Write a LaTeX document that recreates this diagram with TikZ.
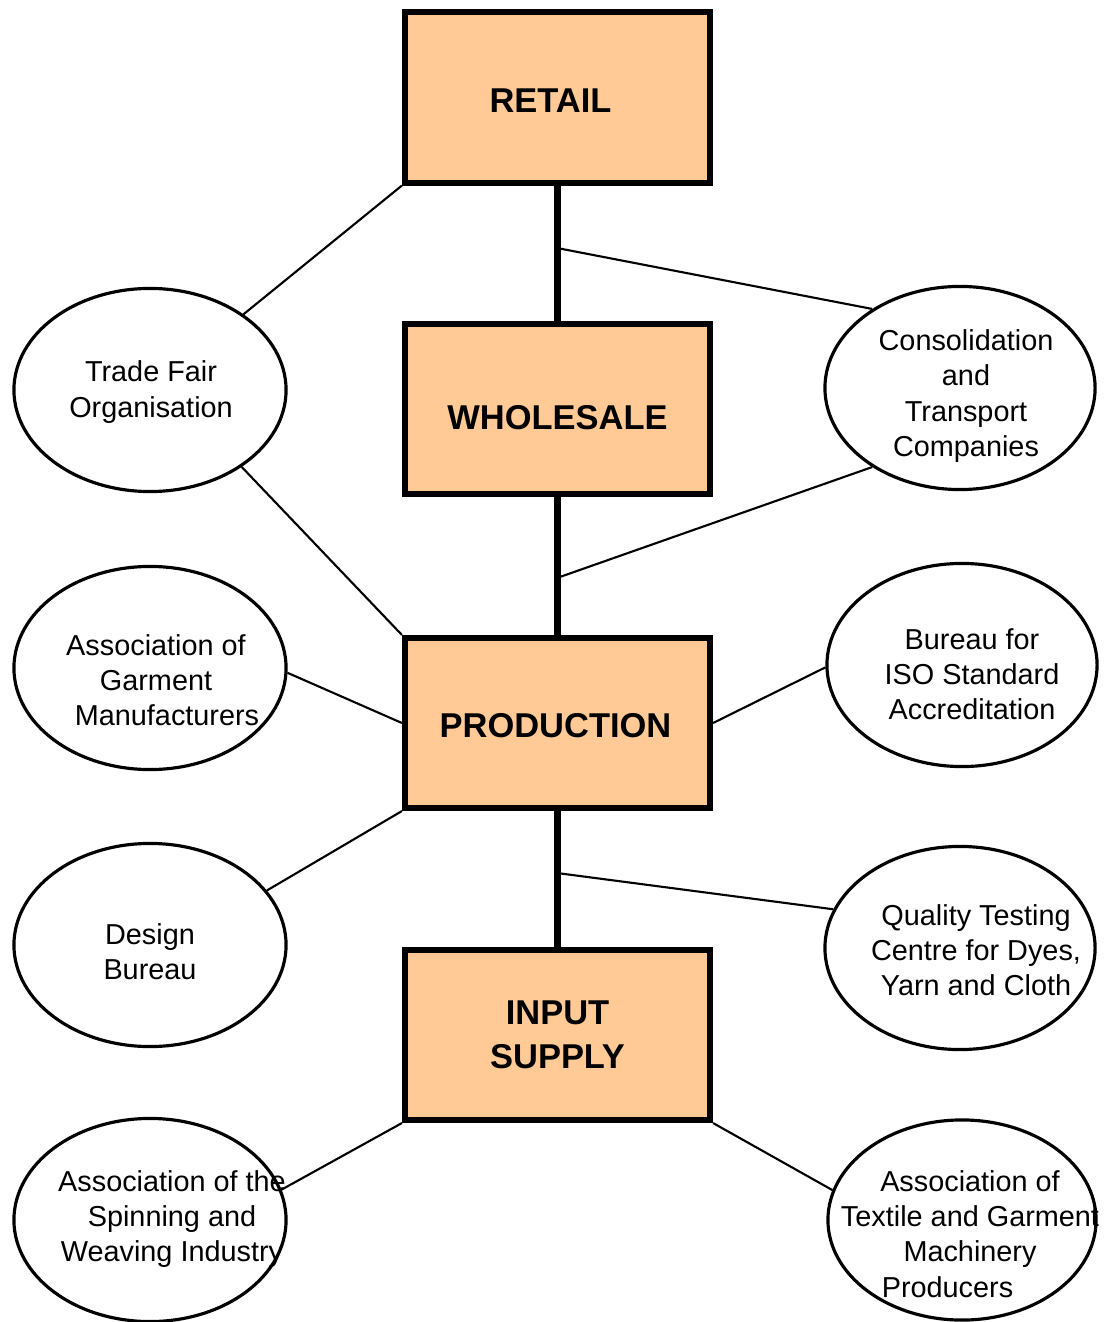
\documentclass[tikz,border=0pt]{standalone}
\usepackage{fontspec}
\setmainfont{Liberation Sans}
\usepackage{xcolor}
\usetikzlibrary{shapes.geometric}
\definecolor{peach}{HTML}{FFCA96}
\newcommand{\sink}[2]{\raisebox{-#1}[\height][\depth]{#2}}

\begin{document}
\begin{tikzpicture}[x=0.01cm,y=-0.01cm]

\tikzset{stage/.style={
  rectangle,
  inner sep=0pt,
  align=center,
  draw=black, fill=peach,
  line width=1.7pt,
  minimum width=30.5mm,
  minimum height=17mm,
  font=\fontsize{9.8}{12.5}\selectfont\bfseries
  }}
\tikzset{org/.style={ellipse, draw=black, line width=0.9pt, inner sep=0pt,
  minimum width=27.2mm, minimum height=20.3mm}}
\tikzset{orgtext/.style={align=center, inner sep=0pt,
  font=\fontsize{8.2}{10}\selectfont}}
\tikzset{link/.style={line width=0.6pt}}
\tikzset{spine/.style={line width=2pt}}

\useasboundingbox (0,0) rectangle (1113,1322);

% the four stages of the chain
\node[stage] (retail) at (557.5,97.5) {\hspace*{-1.4mm}\sink{0.3mm}{RETAIL}};
\node[stage] (whole) at (557.5,409) {\sink{0.85mm}{WHOLESALE}};
\node[stage] (prod) at (557.5,723) {\hspace*{-0.4mm}\sink{0.3mm}{PRODUCTION}};
\node[stage] (input) at (557.5,1035) {INPUT\\SUPPLY};

\path[draw,spine] (retail) -- (whole);
\path[draw,spine] (whole) -- (prod);
\path[draw,spine] (prod) -- (input);

\coordinate (rw) at (557,248);
\coordinate (wp) at (557,578);
\coordinate (pi) at (557,873);

% supporting organisations
\node[org] (trade) at (150,390) {};
\node[org] (garm) at (150,668) {};
\node[org] (design) at (150,945) {};
\node[org] (spin) at (150,1220) {};
\node[org, minimum width=27mm] (cons) at (960,388) {};
\node[org, minimum width=27mm] (iso) at (962,665) {};
\node[org, minimum width=27mm] (qual) at (960,948) {};
\node[org, minimum width=26.8mm, minimum height=20mm] (mach) at (962,1220) {};

\node[orgtext] (tradeT) at (151,392) {Trade Fair\\Organisation};
\node[orgtext] (garmT) at (156,680) {Association of\\Garment\\\hspace*{2.2mm}Manufacturers};
\node[orgtext] (designT) at (150,952) {Design\\Bureau};
\node[orgtext] (spinT) at (172,1219) {Association of the\\Spinning and\\Weaving Industry};
\node[orgtext] (consT) at (966,396) {Consolidation\\and\\Transport\\Companies};
\node[orgtext] (isoT) at (972,674) {Bureau for\\ISO Standard\\Accreditation};
\node[orgtext] (qualT) at (976,950) {Quality Testing\\Centre for Dyes,\\Yarn and Cloth};
\node[orgtext] (machT) at (970,1234) {Association of\\Textile and Garment\\Machinery\\Producers\hspace*{4.5mm}};

%\path[draw] (trade) -- (whole);
\path[draw,link] (trade.39) -- (retail.south west);
\path[draw,link] (trade.-40) -- (prod.north west);
\path[draw,link] (cons.138) -- (rw);
\path[draw,link] (cons.222) -- (wp);
\path[draw,link] (garm.-2) -- (prod.west);
\path[draw,link] (iso.181) -- (prod.east);
\path[draw,link] (design.25) -- (prod.south west);
\path[draw,link] (qual.163) -- (pi);
\path[draw,link] (spin.13) -- (input.south west);
\path[draw,link] (mach.167) -- (input.south east);

\end{tikzpicture}
\end{document}
